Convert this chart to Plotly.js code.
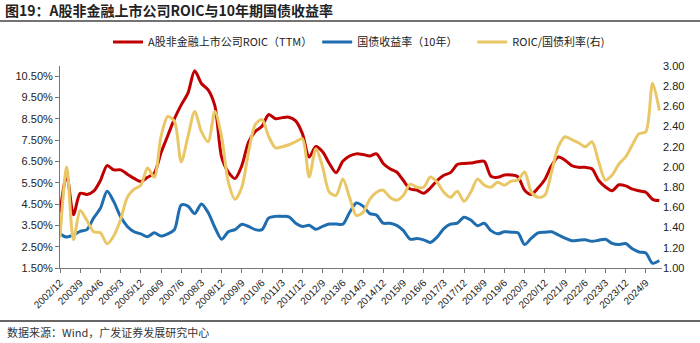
<!DOCTYPE html>
<html><head><meta charset="utf-8">
<script src="https://cdn.plot.ly/plotly-3.0.1.min.js"></script>
<style>html,body{margin:0;padding:0;background:#fff}#chart{width:700px;height:343px}</style>
</head><body><div id="chart"></div>
<script>
const quarters = ["2002/12",
"2003/3","2003/6","2003/9","2003/12","2004/3","2004/6","2004/9","2004/12",
"2005/3","2005/6","2005/9","2005/12","2006/3","2006/6","2006/9","2006/12",
"2007/3","2007/6","2007/9","2007/12","2008/3","2008/6","2008/9","2008/12",
"2009/3","2009/6","2009/9","2009/12","2010/3","2010/6","2010/9","2010/12",
"2011/3","2011/6","2011/9","2011/12","2012/3","2012/6","2012/9","2012/12",
"2013/3","2013/6","2013/9","2013/12","2014/3","2014/6","2014/9","2014/12",
"2015/3","2015/6","2015/9","2015/12","2016/3","2016/6","2016/9","2016/12",
"2017/3","2017/6","2017/9","2017/12","2018/3","2018/6","2018/9","2018/12",
"2019/3","2019/6","2019/9","2019/12","2020/3","2020/6","2020/9","2020/12",
"2021/3","2021/6","2021/9","2021/12","2022/3","2022/6","2022/9","2022/12",
"2023/3","2023/6","2023/9","2023/12","2024/3","2024/6","2024/9","2024/12",
"2025/3"];

const roic = [4.1,5.85,4.0,5.0,4.95,5.1,5.6,6.3,6.1,6.1,
5.9,5.7,5.55,5.75,5.95,6.9,7.7,8.5,9.15,9.7,
10.75,10.15,9.85,9.1,6.7,6.0,5.7,6.3,7.4,7.9,
8.15,8.7,8.5,8.55,8.57,8.4,7.8,6.7,7.2,6.95,
6.4,5.97,6.5,6.75,6.85,6.82,6.75,6.85,6.4,6.15,
6.0,5.6,5.2,5.15,5.0,5.25,5.6,5.85,5.97,6.35,
6.4,6.42,6.48,6.5,5.8,5.75,5.86,5.86,5.78,5.15,
4.95,5.25,5.65,6.3,6.7,6.55,6.3,6.22,6.22,6.15,
5.6,5.3,5.12,5.4,5.35,5.2,5.12,5.05,4.72,4.66];

const bond10y = [3.1,2.95,3.05,3.22,3.3,3.85,4.3,5.1,4.6,3.9,
3.45,3.2,3.1,2.97,3.15,3.0,3.1,3.3,4.45,4.4,
4.05,4.5,4.1,3.4,2.85,3.2,3.3,3.55,3.45,3.3,
3.3,3.85,3.92,3.92,3.9,3.6,3.45,3.5,3.32,3.45,
3.56,3.56,3.55,4.1,4.55,4.4,4.05,3.98,3.6,3.6,
3.5,3.25,2.85,2.88,2.82,2.7,2.95,3.35,3.56,3.6,
3.88,3.75,3.48,3.6,3.25,3.1,3.2,3.18,3.15,2.6,
2.9,3.15,3.18,3.2,3.05,2.9,2.78,2.8,2.82,2.75,
2.8,2.85,2.65,2.6,2.65,2.4,2.25,2.2,1.72,1.85];

const ratio = [1.3,2.0,1.28,1.57,1.47,1.36,1.35,1.24,1.32,1.48,
1.7,1.78,1.82,1.99,1.9,2.3,2.5,2.45,2.05,2.3,
2.55,2.35,2.25,2.55,2.3,1.85,1.68,1.8,2.15,2.42,
2.47,2.3,2.19,2.2,2.22,2.25,2.28,1.9,2.18,2.0,
1.75,1.72,1.88,1.7,1.52,1.55,1.68,1.75,1.77,1.7,
1.67,1.72,1.83,1.8,1.8,1.9,1.85,1.75,1.7,1.76,
1.66,1.75,1.88,1.82,1.8,1.85,1.82,1.86,1.87,1.95,
1.75,1.7,1.72,1.95,2.2,2.3,2.27,2.24,2.2,2.25,
2.05,1.87,1.92,2.03,2.1,2.22,2.33,2.35,2.83,2.56];

const seriesNames = ["A股非金融上市公司ROIC（TTM）","国债收益率（10年）","ROIC/国债利率(右)"];
const tickLabels = quarters.filter((q,i)=>i%3===0 && i<=87);
const leftTicks = [1.5,2.5,3.5,4.5,5.5,6.5,7.5,8.5,9.5,10.5];
const rightTicks = [1.0,1.2,1.4,1.6,1.8,2.0,2.2,2.4,2.6,2.8,3.0];

const FONT = '"Liberation Sans", Arial, "Noto Sans CJK SC", sans-serif';
const CJK = '"Noto Sans CJK SC", "Liberation Sans", sans-serif';
const NB = '\u00A0';

const traces = [
 {x: quarters, y: roic, name: seriesNames[0], type:'scatter', mode:'lines',
  line:{color:'#C00000', width:3, shape:'spline', smoothing:0.8}, yaxis:'y'},
 {x: quarters, y: bond10y, name: seriesNames[1] + NB.repeat(4), type:'scatter', mode:'lines',
  line:{color:'#1F6DAF', width:3, shape:'spline', smoothing:0.8}, yaxis:'y'},
 {x: quarters, y: ratio, name: seriesNames[2], type:'scatter', mode:'lines',
  line:{color:'#E9C766', width:3, shape:'spline', smoothing:0.8}, yaxis:'y2'}
];

const L=60, R=38, T=66, B=75, W=700, H=343;
const pw = W-L-R, ph = H-T-B;
const px = X => (X-L)/pw;
const py = Y => (H-B-Y)/ph;

const layout = {
 width: W, height: H,
 margin: {l:L, r:R, t:T, b:B, pad:0},
 paper_bgcolor:'#fff', plot_bgcolor:'#fff',
 showlegend: true,
 legend: {orientation:'h', x: px(108), y: py(42), xanchor:'left', yanchor:'middle',
  font:{family:CJK, size:11, color:'#222'}, bgcolor:'rgba(0,0,0,0)', itemwidth:30, tracegroupgap:0},
 title: {text:'<b>图19：A股非金融上市公司ROIC与10年期国债收益率</b>', x:0.007, xanchor:'left', xref:'container',
  y: 1-11/H, yanchor:'middle', yref:'container', font:{family:CJK, size:14, color:'#222'}},
 xaxis: {type:'category', range:[0, 89.4], tickmode:'array', tickvals: tickLabels, ticktext: tickLabels,
  tickangle:-45, ticks:'outside', ticklen:4, tickcolor:'#777', showline:true, linecolor:'#777', linewidth:1,
  showgrid:false, zeroline:false, tickfont:{family:FONT, size:10, color:'#222'}},
 yaxis: {range:[1.5, 1.5 + 202/21.33], tickmode:'array', tickvals:leftTicks, ticktext: leftTicks.map(v=>v.toFixed(2)+'%'),
  ticks:'outside', ticklen:4, tickcolor:'#777', showline:true, linecolor:'#777', linewidth:1,
  showgrid:false, zeroline:false, tickfont:{family:FONT, size:11, color:'#222'}},
 yaxis2: {overlaying:'y', side:'right', range:[1.0, 3.0], tickmode:'array', tickvals:rightTicks,
  ticktext: rightTicks.map(v=>v.toFixed(2)), ticks:'', showline:false, showgrid:false, zeroline:false,
  tickfont:{family:FONT, size:11, color:'#222'}},
 shapes: [
  {type:'line', xref:'paper', yref:'paper', x0:px(0), x1:px(700), y0:py(21), y1:py(21), line:{color:'#444', width:1.5}},
  {type:'line', xref:'paper', yref:'paper', x0:px(0), x1:px(700), y0:py(321), y1:py(321), line:{color:'#666', width:2}}
 ],
 annotations: [
  {text:'数据来源：Wind，广发证券发展研究中心', xref:'paper', yref:'paper', x:px(5), y:py(332),
   xanchor:'left', yanchor:'middle', showarrow:false, font:{family:CJK, size:11, color:'#333'}}
 ]
};

Plotly.newPlot('chart', traces, layout, {displayModeBar:false, staticPlot:true});
</script></body></html>
